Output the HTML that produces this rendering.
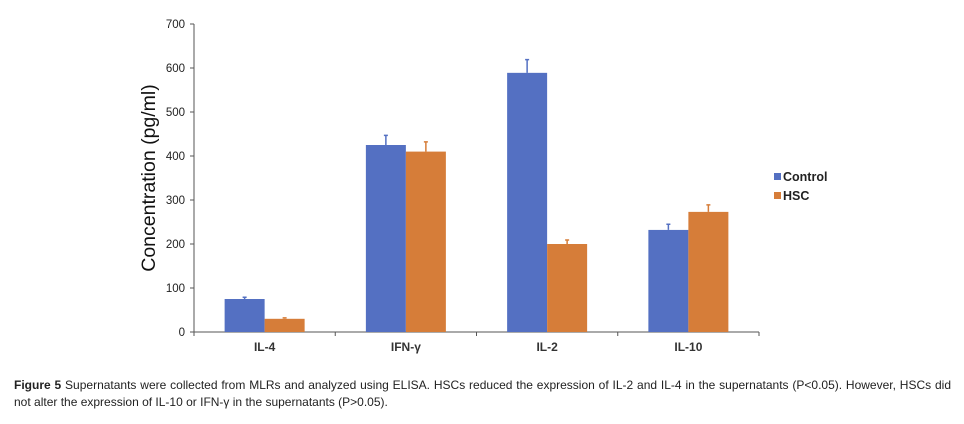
<!DOCTYPE html>
<html><head><meta charset="utf-8"><style>
body{margin:0;background:#fff;width:964px;height:424px;overflow:hidden;font-family:"Liberation Sans",sans-serif;}
#cap{position:absolute;left:14px;top:377px;width:937px;font-size:12px;line-height:17px;color:#222;}
#cap .l1{display:block;text-align:justify;text-align-last:justify;white-space:nowrap;}
#cap .l2{display:block;white-space:nowrap;}
</style></head><body>
<svg id="chart" width="964" height="370" style="position:absolute;left:0;top:0" xmlns="http://www.w3.org/2000/svg"></svg>
<div id="cap"><span class="l1"><b>Figure 5</b> Supernatants were collected from MLRs and analyzed using ELISA. HSCs reduced the expression of IL-2 and IL-4 in the supernatants (P&lt;0.05). However, HSCs did</span><span class="l2">not alter the expression of IL-10 or IFN-γ in the supernatants (P&gt;0.05).</span></div>
<script>
const categories=["IL-4","IFN-γ","IL-2","IL-10"];
const controlValues=[75,425,589,232];
const controlErrors=[4,22,30,13];
const hscValues=[30,410,200,273];
const hscErrors=[2,22,9,16];
const yTicks=[0,100,200,300,400,500,600,700];
const seriesNames=["Control","HSC"];

const svg=document.getElementById('chart');
const NS="http://www.w3.org/2000/svg";
const x0=194,x1=759,y0=332,yTop=24,yMax=700;
const y=v=>y0-(v/yMax)*(y0-yTop);
const cw=(x1-x0)/categories.length;
const bw=40;
function mk(t,a,txt){const e=document.createElementNS(NS,t);for(const k in a)e.setAttribute(k,a[k]);if(txt!==undefined)e.textContent=txt;svg.appendChild(e);return e;}
let e=mk('line',{x1:x0,y1:yTop,x2:x0,y2:y0,stroke:'#555','stroke-width':1});

e=mk('line',{x1:x0,y1:y0,x2:x1,y2:y0,stroke:'#555','stroke-width':1});

yTicks.forEach(t=>{
  let l=mk('line',{x1:x0-4,y1:y(t),x2:x0,y2:y(t),stroke:'#555'});
  
  let tx=mk('text',{x:x0-9,y:y(t)+4,'text-anchor':'end','font-size':11.5,fill:'#222'},t);
  
});
for(let i=0;i<=categories.length;i++){
  let l=mk('line',{x1:x0+i*cw,y1:y0,x2:x0+i*cw,y2:y0+4,stroke:'#555'});
  
}
const colors=['#5470c2','#d67d39'];
const vals=[controlValues,hscValues],errs=[controlErrors,hscErrors];
categories.forEach((c,i)=>{
  const cx=x0+cw*(i+0.5);
  let tx=mk('text',{x:cx,y:351,'text-anchor':'middle','font-size':12,'font-weight':'bold',fill:'#333'},c);
  
  for(let s=0;s<2;s++){
    const v=vals[s][i],bx=cx-bw+s*bw;
    let r=mk('rect',{x:bx,y:y(v),width:bw,height:y0-y(v),fill:colors[s]});
    
    
    const ex=bx+bw/2,et=y(v+errs[s][i]);
    let el=mk('path',{d:`M${ex},${y(v)}V${et}M${ex-2},${et}H${ex+2}`,stroke:colors[s],'stroke-width':1.5,fill:'none'});
    
  }
});
let yt=mk('text',{x:0,y:0,transform:'translate(155,178) rotate(-90)','text-anchor':'middle','font-size':19.5,fill:'#111'},'Concentration (pg/ml)');

seriesNames.forEach((n,s)=>{
  const ly=179+s*19;
  let r=mk('rect',{x:774,y:ly-6,width:7,height:7,fill:colors[s]});
  
  let t=mk('text',{x:783,y:ly+2,'font-size':12.5,'font-weight':'bold',fill:'#222'},n);
  
});
</script>
</body></html>
